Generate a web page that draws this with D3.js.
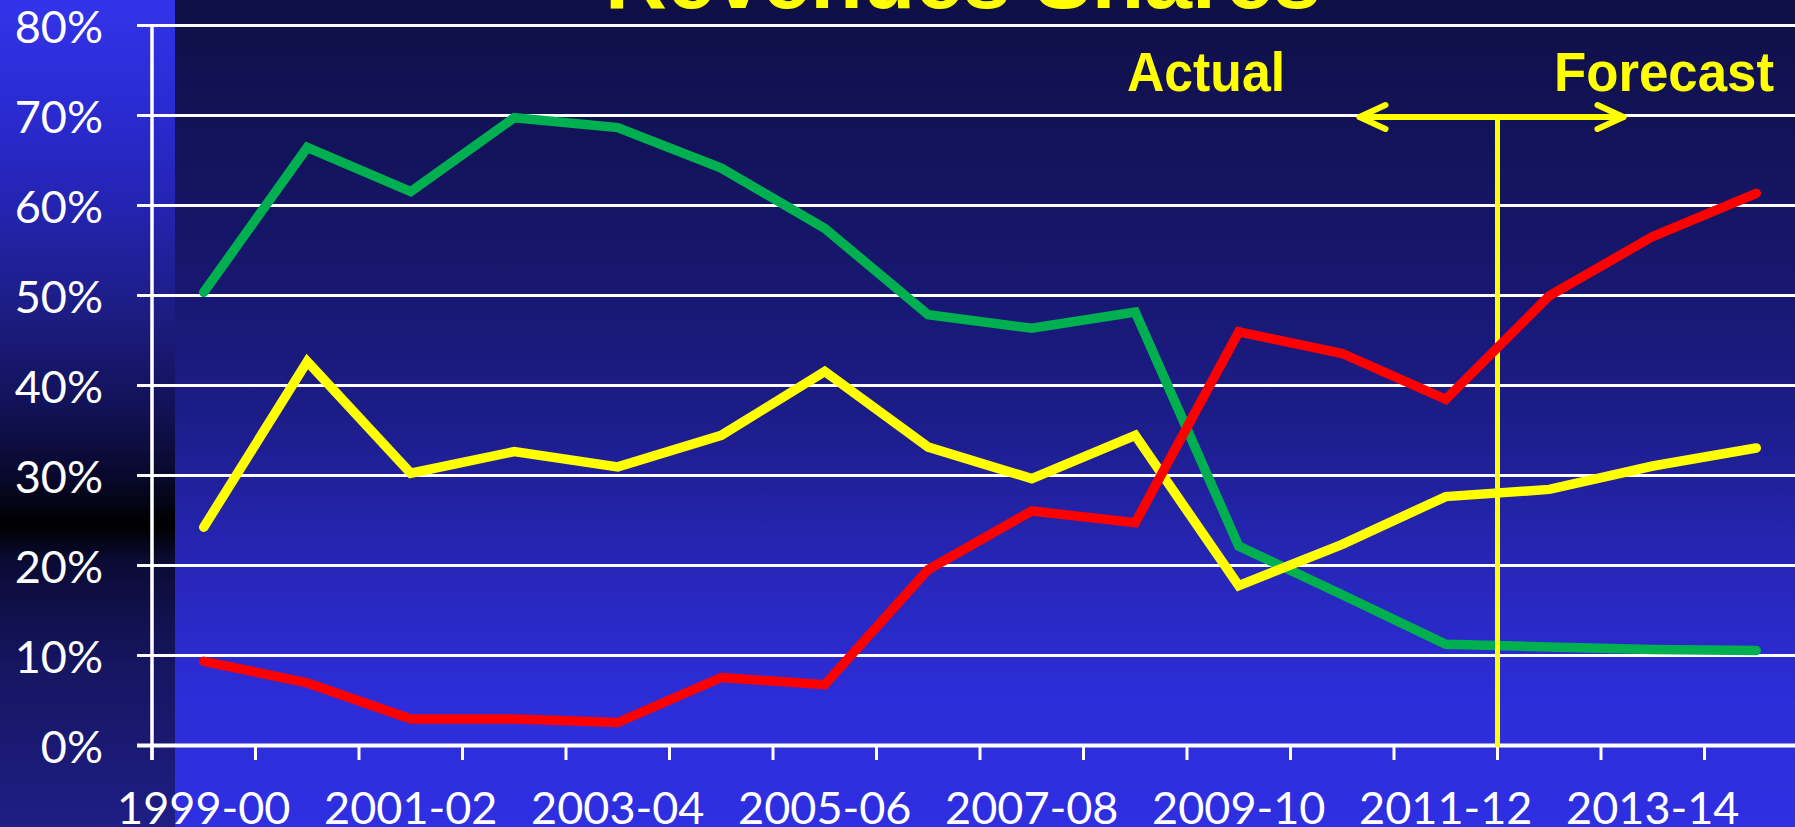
<!DOCTYPE html>
<html>
<head>
<meta charset="utf-8">
<script src="https://cdn.jsdelivr.net/npm/d3@7"></script>
<style>
  body { margin: 0; overflow: hidden; background: #10104a; }
</style>
</head>
<body>
<svg id="chart" width="1795" height="827"></svg>
<script>
// ---------------------------------------------------------------
// data
const categories = ["1999-00", "2000-01", "2001-02", "2002-03", "2003-04", "2004-05",
  "2005-06", "2006-07", "2007-08", "2008-09", "2009-10", "2010-11", "2011-12",
  "2012-13", "2013-14", "2014-15"];
const green_share = [50.3, 66.4, 61.5, 69.7, 68.6, 64.1, 57.4, 47.8, 46.3, 48.1,
  22.1, 16.7, 11.2, 10.9, 10.6, 10.5];
const yellow_share = [24.2, 42.6, 30.2, 32.6, 30.9, 34.4, 41.5, 33.1, 29.6, 34.4,
  17.7, 22.3, 27.6, 28.4, 31.0, 33.0];
const red_share = [9.3, 6.9, 2.9, 2.9, 2.5, 7.5, 6.7, 19.5, 26.0, 24.7,
  45.9, 43.5, 38.4, 49.9, 56.5, 61.3];
const y_ticks = [0, 10, 20, 30, 40, 50, 60, 70, 80];
const forecast_start = "2012-13";
const title_text = "Revenues Shares";

const width = 1795, height = 827;
const margin = {left: 152, top: 25, bottom: 745};
const band = 103.5;
const line_width = 9.5;

const svg = d3.select('#chart');

// ---------------------------------------------------------------
// backgrounds
const defs = svg.append('defs');
const main_grad = defs.append('linearGradient')
  .attr('id', 'main_bg').attr('x1', 0).attr('y1', 0).attr('x2', 0).attr('y2', 1);
[[0, '#0f0f46'], [0.3, '#16166a'], [0.5, '#1c1c88'], [0.7, '#2727bc'],
 [0.85, '#2d2dd9'], [1, '#2f2fe3']].forEach(([o, c]) =>
  main_grad.append('stop').attr('offset', o).attr('stop-color', c));

const side_grad = defs.append('linearGradient')
  .attr('id', 'side_bg').attr('x1', 0).attr('y1', 0).attr('x2', 0).attr('y2', 1);
[[0, '#3333ea'], [0.14, '#2a2ad0'], [0.26, '#2323ae'], [0.37, '#1d1d86'],
 [0.49, '#121258'], [0.58, '#08082a'], [0.635, '#000000'], [0.68, '#0b0b36'],
 [0.8, '#151560'], [1, '#1e1e86']].forEach(([o, c]) =>
  side_grad.append('stop').attr('offset', o).attr('stop-color', c));

svg.append('rect').attr('width', width).attr('height', height).attr('fill', 'url(#main_bg)');
svg.append('rect').attr('width', 175).attr('height', height).attr('fill', 'url(#side_bg)');

// ---------------------------------------------------------------
// scales
const x = d3.scaleBand()
  .domain(categories)
  .range([margin.left, margin.left + band * categories.length]);
const cx = d => x(d) + x.bandwidth() / 2;

const y = d3.scaleLinear()
  .domain([0, 80])
  .range([margin.bottom, margin.top]);

// ---------------------------------------------------------------
// y axis + gridlines
const y_axis = svg.append('g')
  .attr('transform', `translate(${margin.left},0)`)
  .call(d3.axisLeft(y).tickValues(y_ticks).tickSize(0).tickFormat(d => d + '%'));
y_axis.select('.domain').remove();
y_axis.selectAll('.tick line')
  .attr('x1', -15)
  .attr('x2', width - margin.left)
  .attr('stroke', 'white')
  .attr('stroke-width', d => d === 0 ? 4 : 3);
y_axis.selectAll('.tick text')
  .attr('x', -49)
  .attr('dy', '0.38em')
  .attr('fill', 'white')
  .style('font-family', 'Lato, sans-serif')
  .style('font-size', '45px');

svg.append('line')
  .attr('x1', margin.left).attr('x2', margin.left)
  .attr('y1', y(80) - 1).attr('y2', margin.bottom + 15)
  .attr('stroke', 'white').attr('stroke-width', 3.5);

// ---------------------------------------------------------------
// x axis ticks at band edges, labels on every other category
const x_axis = svg.append('g');
x_axis.selectAll('line')
  .data(categories)
  .join('line')
  .attr('x1', d => x(d)).attr('x2', d => x(d))
  .attr('y1', margin.bottom).attr('y2', margin.bottom + 15)
  .attr('stroke', 'white').attr('stroke-width', 3);
x_axis.selectAll('text')
  .data(categories.filter((d, i) => i % 2 === 0))
  .join('text')
  .attr('x', d => cx(d))
  .attr('y', 824)
  .attr('text-anchor', 'middle')
  .attr('fill', 'white')
  .style('font-family', 'Lato, sans-serif')
  .style('font-size', '45px')
  .text(d => d);

// ---------------------------------------------------------------
// lines
const line = d3.line()
  .x((d, i) => cx(categories[i]))
  .y(d => y(d));

const draw_series = (vals, color) => svg.append('path')
  .attr('d', line(vals))
  .attr('fill', 'none')
  .attr('stroke', color)
  .attr('stroke-width', line_width)
  .attr('stroke-linecap', 'round')
  .attr('stroke-linejoin', 'miter');

draw_series(green_share, '#00b050');
draw_series(yellow_share, '#ffff00');

// ---------------------------------------------------------------
// actual / forecast marker
const split_x = x(forecast_start);
const arrow_y = y(70) + 2;
const mark = svg.append('g')
  .attr('stroke', '#ffff00')
  .attr('stroke-linecap', 'round')
  .attr('fill', 'none');
mark.append('line')
  .attr('x1', split_x).attr('x2', split_x)
  .attr('y1', arrow_y).attr('y2', margin.bottom + 2)
  .attr('stroke-width', 5).attr('stroke-linecap', 'butt');
const left_tip = split_x - 138, right_tip = split_x + 126;
mark.append('line')
  .attr('x1', left_tip).attr('x2', right_tip)
  .attr('y1', arrow_y).attr('y2', arrow_y)
  .attr('stroke-width', 6);
mark.append('path')
  .attr('d', `M${left_tip + 26},${arrow_y - 12}L${left_tip},${arrow_y}L${left_tip + 26},${arrow_y + 12}`)
  .attr('stroke-width', 6).attr('stroke-linejoin', 'round');
mark.append('path')
  .attr('d', `M${right_tip - 26},${arrow_y - 12}L${right_tip},${arrow_y}L${right_tip - 26},${arrow_y + 12}`)
  .attr('stroke-width', 6).attr('stroke-linejoin', 'round');

draw_series(red_share, '#ff0000');

// ---------------------------------------------------------------
// texts
const bold_text = (txt, x_pos, y_pos, size, len) => svg.append('text')
  .attr('x', x_pos).attr('y', y_pos)
  .attr('fill', '#ffff00')
  .attr('textLength', len)
  .attr('lengthAdjust', 'spacingAndGlyphs')
  .style('font-family', '"Liberation Sans", Arial, sans-serif')
  .style('font-weight', 'bold')
  .style('font-size', size + 'px')
  .text(txt);

bold_text(title_text, 605, 8, 86, 716);
bold_text('Actual', 1127, 91, 56, 158);
bold_text('Forecast', 1554, 91, 56, 220);
</script>
</body>
</html>
